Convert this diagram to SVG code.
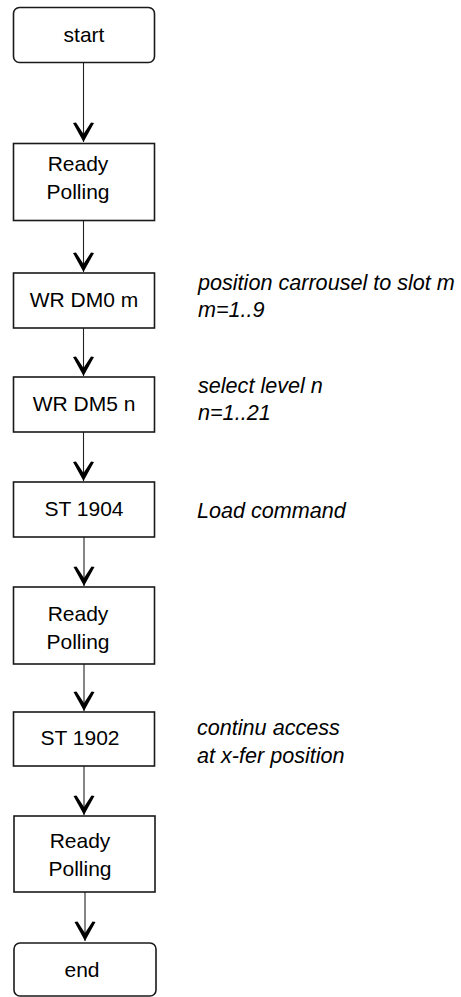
<svg xmlns="http://www.w3.org/2000/svg" width="461" height="997" viewBox="0 0 461 997">
<style>
.box{fill:#fff;stroke:#1a1a1a;stroke-width:1.6}
.t{font-family:"Liberation Sans",Arial,sans-serif;font-size:21px;fill:#000;text-anchor:middle}
.n{font-family:"Liberation Sans",Arial,sans-serif;font-size:21.6px;font-style:italic;fill:#000}
.c{stroke:#222;stroke-width:1.1;fill:none;marker-end:url(#ah)}
</style>
<defs>
<marker id="ah" markerUnits="userSpaceOnUse" markerWidth="24" markerHeight="24" refX="0" refY="0" viewBox="-12 -20 24 24" orient="auto-start-reverse" overflow="visible">
<polygon points="0,0 -10.5,-19 -7.5,-19.5 0,-8 7.5,-19.5 10.5,-19" fill="#000" transform="rotate(-90)"/>
</marker>
</defs>
<g id="connectors">
<line class="c" x1="83.5" y1="63" x2="83.5" y2="142"/>
<line class="c" x1="83.5" y1="221" x2="83.5" y2="272"/>
<line class="c" x1="83.5" y1="328" x2="83.5" y2="376"/>
<line class="c" x1="83.5" y1="432" x2="83.5" y2="481"/>
<line class="c" x1="84" y1="537" x2="84" y2="586"/>
<line class="c" x1="84" y1="664" x2="84" y2="711"/>
<line class="c" x1="84" y1="766" x2="84" y2="815"/>
<line class="c" x1="85" y1="892" x2="85" y2="941"/>
</g>
<g id="start"><rect class="box" x="13.5" y="7.5" width="141" height="55" rx="6"/><text class="t" x="84" y="42">start</text></g>
<g id="ready1"><rect class="box" x="13.5" y="143.5" width="141" height="77"/><text class="t" x="78" y="171">Ready</text><text class="t" x="78" y="199">Polling</text></g>
<g id="wrdm0"><rect class="box" x="13.5" y="273" width="141" height="55"/><text class="t" x="84" y="307">WR DM0 m</text></g>
<g id="wrdm5"><rect class="box" x="13.5" y="377" width="141" height="55"/><text class="t" x="84" y="411">WR DM5 n</text></g>
<g id="st1904"><rect class="box" x="13.5" y="482" width="141" height="55"/><text class="t" x="84" y="516">ST 1904</text></g>
<g id="ready2"><rect class="box" x="13.5" y="587" width="141" height="77"/><text class="t" x="78" y="621">Ready</text><text class="t" x="78" y="649">Polling</text></g>
<g id="st1902"><rect class="box" x="13.5" y="712" width="141" height="54"/><text class="t" x="80" y="745">ST 1902</text></g>
<g id="ready3"><rect class="box" x="14" y="816" width="141" height="76"/><text class="t" x="80" y="848">Ready</text><text class="t" x="80" y="876">Polling</text></g>
<g id="end"><rect class="box" x="14" y="943" width="142" height="53" rx="6"/><text class="t" x="82" y="977">end</text></g>
<g id="notes">
<text class="n" x="198" y="290">position carrousel to slot m</text>
<text class="n" x="198" y="317">m=1..9</text>
<text class="n" x="198" y="393">select level n</text>
<text class="n" x="198" y="420">n=1..21</text>
<text class="n" x="197" y="518">Load command</text>
<text class="n" x="197" y="735">continu access</text>
<text class="n" x="197" y="763">at x-fer position</text>
</g>
</svg>
